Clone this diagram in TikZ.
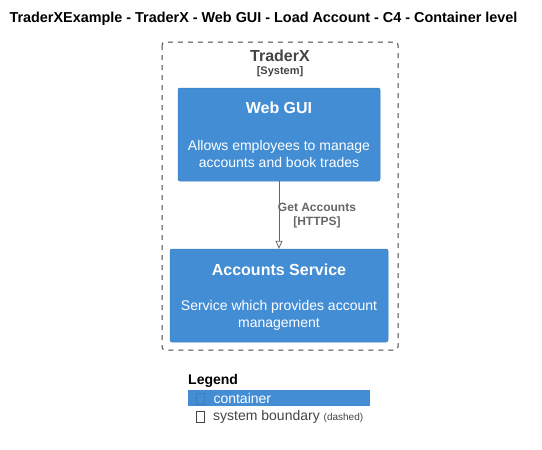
\documentclass[tikz,border=0pt]{standalone}
\usepackage{fontspec}
\setmainfont{Liberation Sans}
\usetikzlibrary{arrows.meta}
\definecolor{cblue}{HTML}{438DD5}
\definecolor{cdark}{HTML}{3C7FC0}
\definecolor{bgray}{HTML}{444444}
\definecolor{agray}{HTML}{666666}
\tikzset{
  container/.style={fill=cblue, draw=cdark, line width=0.5pt, rounded corners=2pt},
  ctitle/.style={text=white, font=\bfseries\fontsize{16}{19}\selectfont, anchor=center},
  cdesc/.style={text=white, font=\fontsize{14}{16.5}\selectfont, align=center, anchor=center},
  boundary/.style={draw=bgray, dash pattern=on 5pt off 5pt, line width=1pt, rounded corners=3pt},
  rel/.style={draw=agray, line width=0.8pt, -{Triangle[open, length=8pt, width=7pt]}},
  rellabel/.style={text=agray, font=\bfseries\fontsize{12}{14.5}\selectfont, align=center},
}
\begin{document}
\begin{tikzpicture}[x=1pt,y=-1pt]
\useasboundingbox (0,0) rectangle (542,450);
\node[font=\bfseries\fontsize{14.4}{16}\selectfont] (title) at (263.5,19) {TraderXExample - TraderX - Web GUI - Load Account - C4 - Container level};
% boundary
\draw[boundary] (162,42) rectangle (398,350);
\node[text=bgray, font=\bfseries\fontsize{16}{19}\selectfont] (bname) at (280,56) {TraderX};
\node[text=bgray, font=\bfseries\fontsize{11}{13}\selectfont] (btype) at (280,72) {[System]};
% Web GUI
\draw[container] (178,88) rectangle (380,181);
\node (webgui) at (279,134.5) [minimum width=202pt, minimum height=93pt] {};
\node[ctitle] (wt) at (279,108) {Web GUI};
\node[cdesc] (wd) at (279,154) {Allows employees to manage\\accounts and book trades};
% Accounts Service
\draw[container] (170,249) rectangle (388,342);
\node (accsvc) at (279,295.5) [minimum width=218pt, minimum height=93pt] {};
\node[ctitle] (at) at (279,270) {Accounts Service};
\node[cdesc] (ad) at (279,315.5) {Service which provides account\\management};
% relation
\draw[rel] (webgui.south) -- (accsvc.north);
\node[rellabel] (rl) at (317,215.5) {Get Accounts\\{[HTTPS]}};
% legend
\node[anchor=west, font=\bfseries\fontsize{14}{16}\selectfont, inner sep=0pt] (leg) at (188,381) {Legend};
\fill[cblue] (188,390) rectangle (370,406);
\draw[cdark, line width=0.6pt] (196.5,393) rectangle (204.5,404);
\node[anchor=west, text=white, font=\fontsize{14}{16}\selectfont] (l1) at (210,398) {container};
\draw[bgray, line width=0.6pt] (196.5,411) rectangle (204.5,422);
\node[anchor=west, text=bgray, font=\fontsize{14}{16}\selectfont, inner sep=3pt] (l2) at (210,416.5) {system boundary {\fontsize{10}{11}\selectfont(dashed)}};
\end{tikzpicture}
\end{document}
